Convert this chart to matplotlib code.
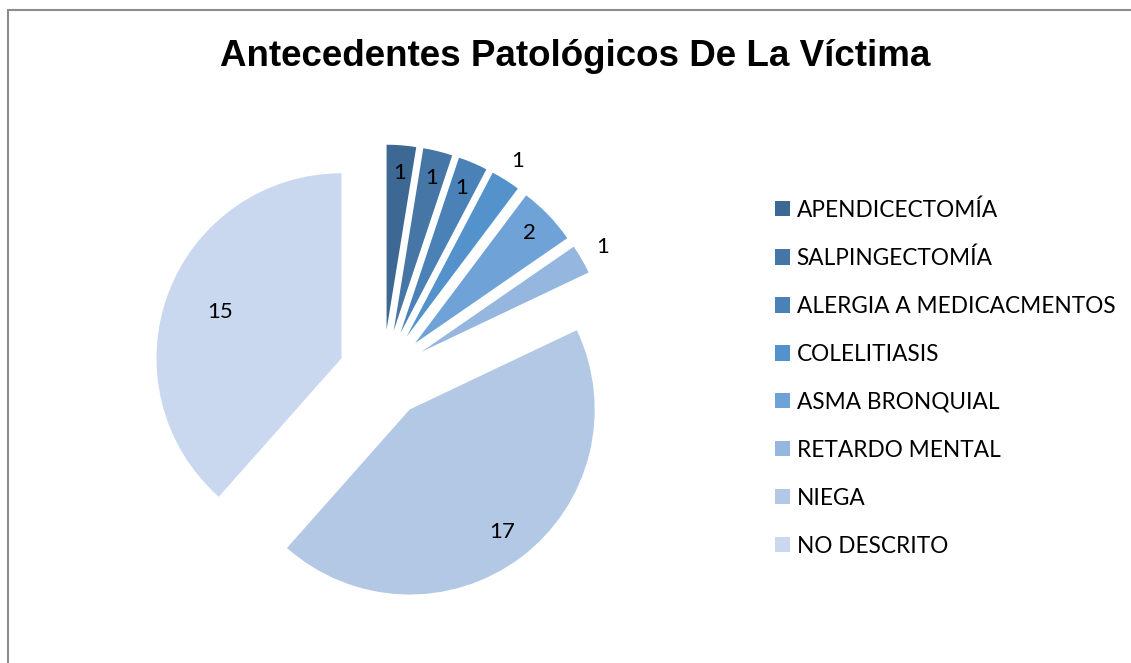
import matplotlib.pyplot as plt
from matplotlib.patches import Rectangle
import numpy as np

categorias = ['APENDICECTOMÍA', 'SALPINGECTOMÍA', 'ALERGIA A MEDICACMENTOS',
              'COLELITIASIS', 'ASMA BRONQUIAL', 'RETARDO MENTAL', 'NIEGA',
              'NO DESCRITO']
valores = [1, 1, 1, 1, 2, 1, 17, 15]
colores = ['#3D6893', '#4576A6', '#4A82B8', '#5492CC', '#6FA2D6',
           '#95B6DE', '#B3C8E4', '#C9D8EE']
# distance of each value label from its slice centre (fraction of radius)
dist_etiqueta = [0.85, 0.85, 0.85, 1.12, 0.86, 1.13, 0.83, 0.70]

W, H = 1131, 663
fig = plt.figure(figsize=(W / 100, H / 100), dpi=100)

# gray chart frame
fig.patches.append(Rectangle((7.5 / W, -0.05), 1.2, (H - 10) / H + 0.05,
                             transform=fig.transFigure, fill=False,
                             edgecolor='#8c8c8c', linewidth=1.5))

# pie centre at (383, 374) px, radius 185 px
cx, cy, r = 383, 374, 185
half = 250
ax = fig.add_axes([(cx - half) / W, (H - cy - half) / H, 2 * half / W, 2 * half / H])
explode = [0.24] * len(valores)
wedges, _ = ax.pie(valores, colors=colores, startangle=90, counterclock=False,
                   explode=explode, radius=1.0)
lim = half / r
ax.set_xlim(-lim, lim)
ax.set_ylim(-lim, lim)
ax.set_aspect('auto')

for w, v, d, ex in zip(wedges, valores, dist_etiqueta, explode):
    ang = np.deg2rad((w.theta1 + w.theta2) / 2)
    x = (ex + d) * np.cos(ang)
    y = (ex + d) * np.sin(ang)
    ax.text(x, y, str(v), ha='center', va='center', fontsize=16,
            family='Lato', color='black')

fig.text(575 / W, 1 - 57 / H, 'Antecedentes Patológicos De La Víctima',
         ha='center', va='center', fontsize=26.5, fontweight='bold',
         family='Liberation Sans')

fig.legend(wedges, categorias, loc='upper left',
           bbox_to_anchor=(766 / W, 1 - 190 / H), frameon=False,
           prop={'family': 'Lato', 'size': 16.3}, handlelength=0.66,
           handleheight=0.66, handletextpad=0.3, labelspacing=1.19,
           borderaxespad=0)

fig.savefig('out.png', dpi=100)
